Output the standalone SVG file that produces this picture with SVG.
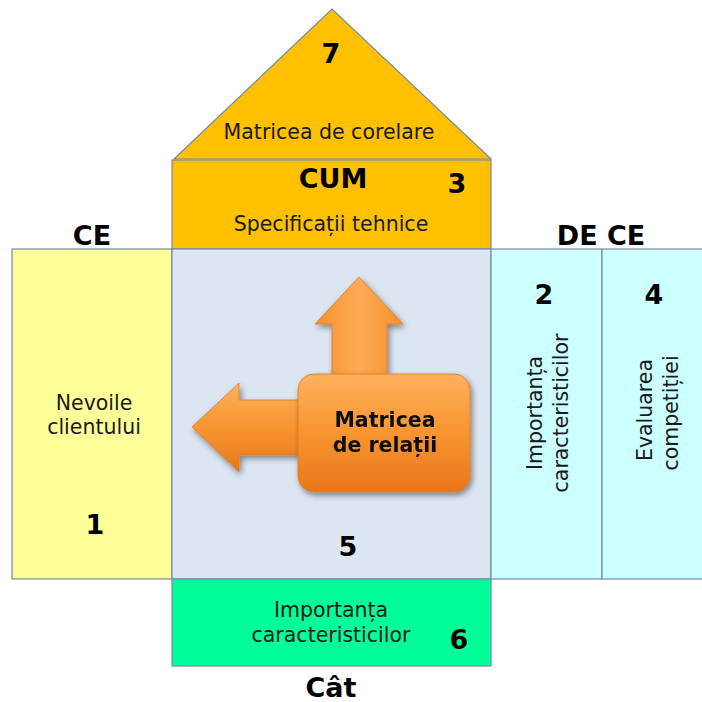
<svg xmlns="http://www.w3.org/2000/svg" width="702" height="702" viewBox="0 0 702 702">
  <style>
    .box { stroke: #7689a8; stroke-width: 1.2; }
    .lbl { font-family: "DejaVu Sans", Verdana, sans-serif; font-size: 20.5px; fill: #1a1a1a; text-anchor: middle; }
    .num { font-family: "DejaVu Sans", Verdana, sans-serif; font-size: 27px; font-weight: bold; fill: #000; text-anchor: middle; }
    .head { font-family: "DejaVu Sans", Verdana, sans-serif; font-size: 27px; font-weight: bold; fill: #000; text-anchor: middle; }
    .core { font-family: "DejaVu Sans", Verdana, sans-serif; font-size: 20.5px; font-weight: bold; fill: #111; text-anchor: middle; }
  </style>
  <defs>
    <linearGradient id="orangeV" x1="0" y1="0" x2="0" y2="1">
      <stop offset="0" stop-color="#ffb15e"/>
      <stop offset="0.5" stop-color="#f8952f"/>
      <stop offset="1" stop-color="#e8771b"/>
    </linearGradient>
    <linearGradient id="orangeH" x1="0" y1="0" x2="1" y2="0">
      <stop offset="0" stop-color="#f39030"/>
      <stop offset="0.5" stop-color="#ffab55"/>
      <stop offset="1" stop-color="#f39030"/>
    </linearGradient>
    <filter id="shadow" x="-20%" y="-20%" width="150%" height="150%">
      <feGaussianBlur in="SourceAlpha" stdDeviation="3"/>
      <feOffset dx="2" dy="3" result="b"/>
      <feComponentTransfer><feFuncA type="linear" slope="0.45"/></feComponentTransfer>
      <feMerge><feMergeNode/><feMergeNode in="SourceGraphic"/></feMerge>
    </filter>
  </defs>

  <rect width="702" height="702" fill="#ffffff"/>

  <!-- roof: correlation matrix -->
  <g id="roof">
    <polygon class="box" points="174,159 332,9 491,159" fill="#ffc000"/>
    <text class="num" x="331" y="63">7</text>
    <text class="lbl" x="329" y="139">Matricea de corelare</text>
  </g>

  <!-- technical specifications -->
  <g id="how">
    <rect class="box" x="172" y="160" width="319" height="89" fill="#ffc000"/>
    <text class="head" x="333" y="188">CUM</text>
    <text class="num" x="457" y="193">3</text>
    <text class="lbl" x="331" y="231">Specificații tehnice</text>
  </g>

  <!-- column headings -->
  <text class="head" x="92" y="245">CE</text>
  <text class="head" x="601" y="245">DE CE</text>

  <!-- customer needs -->
  <g id="what">
    <rect class="box" x="12" y="249" width="160" height="330" fill="#ffff99"/>
    <text class="lbl" x="94" y="410">Nevoile</text>
    <text class="lbl" x="94" y="434">clientului</text>
    <text class="num" x="95" y="534">1</text>
  </g>

  <!-- relationship matrix -->
  <g id="relations">
    <rect class="box" x="172" y="249" width="319" height="330" fill="#dce6f2"/>
    <text class="num" x="348" y="556">5</text>
  </g>

  <!-- importance of characteristics -->
  <g id="why-importance">
    <rect class="box" x="491" y="249" width="111" height="330" fill="#ccffff"/>
    <text class="num" x="544" y="304">2</text>
    <text class="lbl" transform="translate(542,413) rotate(-90)">Importanța</text>
    <text class="lbl" transform="translate(568,413) rotate(-90)">caracteristicilor</text>
  </g>

  <!-- competitive evaluation -->
  <g id="why-competition">
    <rect class="box" x="602" y="249" width="110" height="330" fill="#ccffff"/>
    <text class="num" x="654" y="304">4</text>
    <text class="lbl" transform="translate(652,410) rotate(-90)">Evaluarea</text>
    <text class="lbl" transform="translate(678,413) rotate(-90)">competiției</text>
  </g>

  <!-- how much -->
  <g id="how-much">
    <rect class="box" x="172" y="579" width="319" height="87" fill="#00ff99"/>
    <text class="lbl" x="331" y="617">Importanța</text>
    <text class="lbl" x="331" y="642">caracteristicilor</text>
    <text class="num" x="459" y="649">6</text>
    <text class="head" x="331" y="697">Cât</text>
  </g>

  <!-- central arrows -->
  <g id="connectors" filter="url(#shadow)">
    <polygon points="332,376 332,324 315,324 359,277 403,324 387,324 387,376" fill="url(#orangeH)" stroke="#e07a20" stroke-width="0.8"/>
    <polygon points="300,400 239,400 239,383 192,427 239,472 239,455 300,455" fill="url(#orangeV)" stroke="#e07a20" stroke-width="0.8"/>
  </g>

  <g id="core" filter="url(#shadow)">
    <rect x="298" y="374" width="172" height="118" rx="16" ry="16" fill="url(#orangeV)" stroke="#e07a20" stroke-width="0.8"/>
    <text class="core" x="385" y="427">Matricea</text>
    <text class="core" x="385" y="452">de relații</text>
  </g>
</svg>
